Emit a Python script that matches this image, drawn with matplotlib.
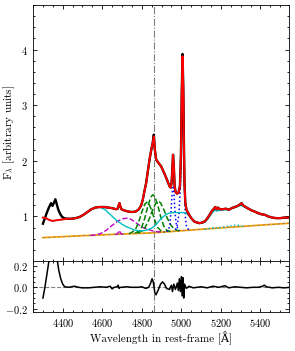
import numpy as np
import matplotlib
matplotlib.use('Agg')
import matplotlib.pyplot as plt
from matplotlib.ticker import MultipleLocator

# LaTeX-like look without a TeX install
plt.rcParams['font.family'] = ['cmr10', 'DejaVu Serif']
plt.rcParams['mathtext.fontset'] = 'cm'
plt.rcParams['axes.formatter.use_mathtext'] = True
plt.rcParams['font.size'] = 8

# full model (red)
model_wave = [4300, 4315, 4330, 4348, 4365, 4385, 4405, 4425, 4445, 4465, 4485, 4505, 4525, 4545,
              4565, 4585, 4610, 4630, 4650, 4670, 4678, 4683, 4687, 4691, 4697, 4710, 4730, 4750,
              4770, 4785, 4797, 4805, 4813, 4822, 4830, 4839, 4848, 4855, 4861, 4866, 4873, 4885,
              4898, 4912, 4924, 4935, 4942, 4947, 4951, 4955, 4958, 4962, 4966, 4971, 4978, 4986,
              4993, 4998, 5002, 5006, 5010, 5013, 5016, 5020, 5026, 5038, 5050, 5065, 5080, 5092,
              5105, 5118, 5130, 5143, 5155, 5165, 5172, 5178, 5185, 5195, 5210, 5225, 5240, 5255,
              5270, 5285, 5298, 5305, 5312, 5325, 5340, 5355, 5370, 5388, 5405, 5422, 5440, 5460,
              5480, 5500, 5520, 5550]
model_flux = [0.98, 0.97, 0.94, 0.92, 0.93, 0.94, 0.95, 0.96, 0.96, 0.97, 0.99, 1.03, 1.08, 1.13,
              1.16, 1.17, 1.17, 1.16, 1.15, 1.13, 1.14, 1.20, 1.24, 1.19, 1.13, 1.11, 1.09, 1.08,
              1.09, 1.13, 1.20, 1.30, 1.45, 1.60, 1.80, 2.02, 2.20, 2.32, 2.44, 2.20, 2.02, 1.96,
              1.90, 1.79, 1.69, 1.59, 1.53, 1.52, 1.62, 1.90, 2.11, 1.90, 1.55, 1.44, 1.41, 1.43,
              1.55, 2.10, 3.20, 3.88, 3.30, 2.30, 1.60, 1.25, 1.12, 1.04, 0.97, 0.91, 0.89, 0.88,
              0.89, 0.91, 0.96, 1.03, 1.10, 1.14, 1.17, 1.13, 1.16, 1.13, 1.13, 1.14, 1.12, 1.15,
              1.17, 1.19, 1.22, 1.24, 1.20, 1.17, 1.14, 1.11, 1.09, 1.06, 1.04, 1.03, 1.00, 0.98,
              0.97, 0.97, 0.98, 0.98]

# observed spectrum (black), only the blue end differs visibly from the model
obs_wave_blue = [4300, 4310, 4320, 4330, 4341, 4348, 4355, 4363, 4370, 4378, 4388, 4398, 4410, 4425]
obs_flux_blue = [0.87, 0.97, 1.07, 1.16, 1.24, 1.19, 1.24, 1.31, 1.22, 1.12, 1.04, 0.99, 0.965, 0.96]
obs_peaks = {4861: 2.47, 5006: 3.92}

# power-law continuum (orange)
cont_wave = [4300, 4500, 4700, 4850, 4950, 5100, 5300, 5550]
cont_flux = [0.62, 0.655, 0.685, 0.705, 0.73, 0.77, 0.82, 0.88]

# Fe II + continuum (cyan)
fe_wave = [4300, 4315, 4330, 4348, 4365, 4385, 4405, 4425, 4445, 4465, 4485, 4505, 4525, 4545,
           4565, 4585, 4600, 4615, 4630, 4645, 4660, 4680, 4700, 4720, 4740, 4760, 4780, 4795,
           4810, 4830, 4850, 4865, 4880, 4895, 4910, 4925, 4940, 4960, 4990, 5010, 5025, 5040,
           5055, 5070, 5090, 5105, 5120, 5133, 5145, 5158, 5170, 5180, 5195, 5210, 5230, 5250,
           5270, 5285, 5300, 5310, 5325, 5340, 5355, 5370, 5388, 5405, 5422, 5440, 5460, 5480,
           5500, 5520, 5550]
fe_flux = [0.98, 0.97, 0.94, 0.92, 0.93, 0.94, 0.95, 0.96, 0.96, 0.97, 0.99, 1.03, 1.08, 1.13,
           1.16, 1.17, 1.15, 1.12, 1.07, 1.02, 0.97, 0.91, 0.86, 0.82, 0.79, 0.76, 0.745, 0.74,
           0.745, 0.76, 0.79, 0.83, 0.89, 0.95, 1.00, 1.04, 1.06, 1.07, 1.07, 1.07, 1.06, 1.01,
           0.95, 0.91, 0.88, 0.885, 0.90, 0.95, 1.01, 1.08, 1.11, 1.10, 1.11, 1.12, 1.12, 1.14,
           1.16, 1.18, 1.20, 1.19, 1.16, 1.13, 1.11, 1.09, 1.06, 1.04, 1.03, 1.00, 0.98, 0.97,
           0.97, 0.98, 0.98]

# weak extra Fe II group (cyan dotted)
fe2_wave = [5120, 5135, 5150, 5165, 5175, 5190, 5210, 5230, 5250, 5265, 5280, 5290, 5300, 5315]
fe2_flux = [0.765, 0.78, 0.79, 0.80, 0.79, 0.80, 0.81, 0.82, 0.83, 0.84, 0.85, 0.84, 0.83, 0.82]

# He II broad and narrow (magenta dashed)
heii_b_wave = [4540, 4560, 4590, 4620, 4650, 4680, 4705, 4725, 4745, 4770, 4800, 4830, 4856, 4880, 4910]
heii_b_flux = [0.66, 0.665, 0.69, 0.75, 0.84, 0.92, 0.96, 0.97, 0.95, 0.89, 0.81, 0.77, 0.74, 0.725, 0.72]
heii_n_wave = [4665, 4676, 4682, 4686, 4690, 4696, 4707]
heii_n_flux = [0.675, 0.685, 0.72, 0.75, 0.72, 0.685, 0.68]

# broad H beta components (green dashed)
hb1_wave = [4766, 4786, 4801, 4816, 4831, 4846, 4856, 4866, 4881, 4896, 4911, 4926, 4946]
hb1_flux = [0.70, 0.74, 0.82, 0.98, 1.19, 1.35, 1.39, 1.36, 1.20, 0.99, 0.83, 0.75, 0.73]
hb2_wave = [4736, 4756, 4771, 4786, 4801, 4816, 4826, 4836, 4851, 4866, 4881, 4896, 4916]
hb2_flux = [0.69, 0.73, 0.79, 0.92, 1.09, 1.225, 1.255, 1.23, 1.10, 0.93, 0.80, 0.745, 0.72]
hb3_wave = [4778, 4801, 4818, 4836, 4853, 4871, 4883, 4895, 4913, 4930, 4948, 4965, 4988]
hb3_flux = [0.70, 0.74, 0.81, 0.94, 1.10, 1.24, 1.275, 1.245, 1.11, 0.96, 0.84, 0.77, 0.74]

# [O III] 4959, 5007 (blue dotted)
o1_wave = [4925, 4935, 4942, 4948, 4952, 4956, 4959, 4962, 4966, 4970, 4975, 4982, 4992]
o1_flux = [0.73, 0.75, 0.85, 1.10, 1.35, 1.50, 1.52, 1.45, 1.20, 1.00, 0.85, 0.78, 0.75]
o2_wave = [4970, 4980, 4988, 4995, 5000, 5004, 5007, 5010, 5013, 5016, 5020, 5026, 5035, 5045]
o2_flux = [0.76, 0.85, 1.05, 1.50, 2.30, 3.30, 3.60, 3.20, 2.30, 1.50, 1.00, 0.82, 0.77, 0.76]

# residuals (lower panel)
res_wave = [4300, 4310, 4320, 4330, 4337, 4345, 4355, 4365, 4372, 4380, 4390, 4400, 4410, 4430,
            4460, 4480, 4500, 4530, 4560, 4590, 4620, 4640, 4650, 4660, 4675, 4680, 4685, 4690,
            4700, 4720, 4750, 4780, 4800, 4820, 4835, 4845, 4852, 4858, 4862, 4866, 4872, 4882,
            4895, 4905, 4915, 4925, 4940, 4950, 4955, 4962, 4970, 4980, 4985, 4990, 4995, 5000,
            5004, 5008, 5012, 5016, 5025, 5040, 5060, 5080, 5100, 5130, 5160, 5190, 5220, 5240,
            5270, 5300, 5330, 5360, 5390, 5410, 5420, 5430, 5460, 5490, 5520, 5550]
res_flux = [-0.10, 0.00, 0.12, 0.24, 0.30, 0.33, 0.36, 0.33, 0.26, 0.16, 0.08, 0.03, 0.005, 0.00,
            0.01, 0.00, -0.005, -0.005, 0.00, 0.005, 0.00, 0.01, -0.015, 0.00, 0.005, 0.02, -0.01, 0.00,
            0.00, 0.005, 0.00, 0.00, 0.005, -0.01, 0.00, 0.04, 0.08, 0.05, 0.00, -0.05, -0.07, -0.03,
            0.03, 0.05, 0.03, -0.01, -0.02, 0.02, -0.04, 0.03, -0.02, 0.04, -0.03, 0.08, -0.04, 0.10,
            -0.08, 0.09, -0.10, 0.03, -0.01, 0.01, -0.005, 0.00, 0.005, -0.005, 0.01, 0.00, 0.015, -0.005,
            0.005, 0.00, -0.005, 0.00, 0.00, 0.01, 0.02, 0.005, -0.005, 0.00, -0.005, 0.00]

hbeta = 4861

# black: blue end from its own points, the rest runs with the model
obs_wave = list(obs_wave_blue)
obs_flux = list(obs_flux_blue)
for w, f in zip(model_wave, model_flux):
    if w > obs_wave_blue[-1]:
        obs_wave.append(w)
        obs_flux.append(obs_peaks.get(w, f))

fig = plt.figure(figsize=(2.95, 3.51), dpi=100)
ax1 = fig.add_axes([0.112, 0.2564, 0.868, 0.7294])
ax2 = fig.add_axes([0.112, 0.1111, 0.868, 0.1453], sharex=ax1)

ax1.plot(cont_wave, cont_flux, color='orange', lw=1.3, zorder=2)
ax1.plot(cont_wave, cont_flux, color='gray', lw=0.6, ls=(0, (3, 3)), zorder=2)
ax1.plot(fe2_wave, fe2_flux, color='c', lw=1.0, ls=':', zorder=2)
ax1.plot(heii_b_wave, heii_b_flux, color='m', lw=1.0, ls='--', zorder=2)
ax1.plot(heii_n_wave, heii_n_flux, color='m', lw=1.0, ls='--', zorder=2)
for w, f in [(hb1_wave, hb1_flux), (hb2_wave, hb2_flux), (hb3_wave, hb3_flux)]:
    ax1.plot(w, f, color='green', lw=1.1, ls='--', zorder=3)
ax1.plot(o1_wave, o1_flux, color='blue', lw=1.1, ls=':', zorder=3)
ax1.plot(o2_wave, o2_flux, color='blue', lw=1.1, ls=':', zorder=3)
ax1.plot(fe_wave, fe_flux, color='c', lw=1.0, zorder=3)
ax1.plot(obs_wave, obs_flux, color='k', lw=1.7, zorder=4)
ax1.plot(model_wave, model_flux, color='r', lw=1.4, zorder=5)
ax1.axvline(hbeta, color='gray', lw=0.8, ls='-.', zorder=1)

ax1.set_ylim(0.2, 4.8)
ax1.set_ylabel(r'F$_\lambda$ [arbitrary units]', labelpad=3)
ax1.yaxis.set_major_locator(MultipleLocator(1))
ax1.yaxis.set_minor_locator(MultipleLocator(0.2))
plt.setp(ax1.get_xticklabels(), visible=False)

ax2.plot(res_wave, res_flux, color='k', lw=1.1)
ax2.axhline(0, color='gray', lw=0.8, ls='--', zorder=0)
ax2.axvline(hbeta, color='gray', lw=0.8, ls='-.', zorder=0)
ax2.set_ylim(-0.23, 0.245)
ax2.set_xlim(4250, 5545)
ax2.set_xlabel(r'Wavelength in rest-frame [Å]', labelpad=2)
ax2.yaxis.set_major_locator(MultipleLocator(0.2))
ax2.yaxis.set_minor_locator(MultipleLocator(0.05))
ax2.yaxis.set_major_formatter(plt.FuncFormatter(lambda v, p: r'$%.1f$' % v if abs(v) > 1e-9 else r'$0.0$'))
ax2.xaxis.set_major_locator(MultipleLocator(200))
ax2.xaxis.set_minor_locator(MultipleLocator(50))

for ax in (ax1, ax2):
    ax.tick_params(which='both', direction='in', top=True, right=True, width=0.6, labelsize=7.5)
    ax.tick_params(which='major', length=3)
    ax.tick_params(which='minor', length=1.6)
    for s in ax.spines.values():
        s.set_linewidth(0.6)

fig.savefig('out.png', dpi=100)
